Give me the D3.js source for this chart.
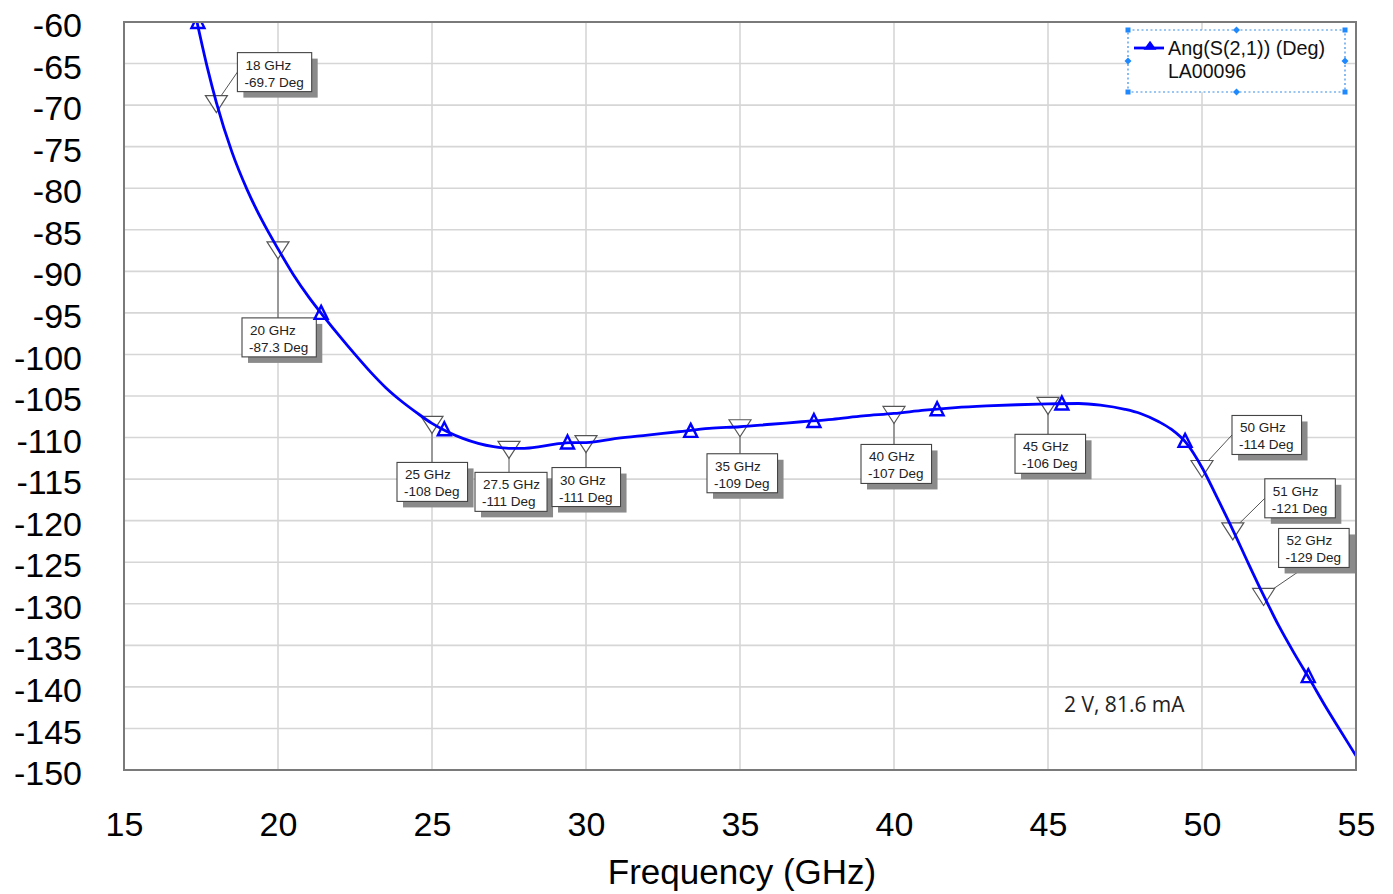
<!DOCTYPE html>
<html lang="en">

<head>
    <meta charset="UTF-8">
    <title>Ang(S(2,1))</title>
    <style>
        body { margin: 0; background: #fff; }
        svg { display: block; }
    </style>
</head>

<body>
    <script src="https://d3js.org/d3.v7.min.js"></script>
    <script>
        // curve (GHz, deg)
        const freqs = [17.37, 17.7, 18, 18.5, 19, 19.5, 20, 20.5, 21, 21.5, 22, 22.5, 23, 23.5, 24, 24.5,
            25, 25.5, 26, 26.5, 27, 27.5, 28, 28.5, 29, 29.5, 30, 31, 32, 33, 34, 35, 36, 37, 38, 39,
            40, 41, 42, 43, 44, 45, 46, 46.7, 47.5, 48, 48.6, 49, 49.5, 50, 50.5, 51, 51.5, 52,
            52.5, 53, 53.5, 54, 54.5, 55];
        const phase = [-60, -65.4, -69.7, -75.6, -80.2, -84.0, -87.3, -90.4, -93.1, -95.5, -97.8, -100, -102.1, -104, -105.6, -107,
            -108.3, -109.3, -110.1, -110.7, -111.1, -111.3, -111.3, -111.1, -110.8, -110.6, -110.6, -110.1, -109.7, -109.3, -108.9, -108.7, -108.4, -108.1, -107.8, -107.4,
            -107.1, -106.7, -106.4, -106.2, -106.05, -105.95, -105.9, -106.1, -106.6, -107.1, -108.1, -109.0, -110.7, -113.6, -117.3, -121.1, -125.1, -129.0,
            -132.7, -136.0, -139.1, -142.3, -145.3, -148.3];

        // series symbols sitting on the trace
        const symFreqs = [17.4, 21.4, 25.4, 29.4, 33.4, 37.4, 41.4, 45.45, 49.45, 53.45];
        const symPhase = [-60, -95.0, -109.0, -110.6, -109.2, -108.0, -106.6, -105.9, -110.4, -138.7];

        // markers
        const markFreqs = [18, 20, 25, 27.5, 30, 35, 40, 45, 50, 51, 52];
        const markPhase = [-69.7, -87.3, -108.3, -111.3, -110.6, -108.7, -107.1, -106.0, -113.6, -121.1, -129.0];
        // label box offset from the marker, and where the leader meets the box
        const markDx = [21, -36, -35, -34, -34, -33, -33, -33, 30, 32, 15];
        const markDy = [-50, 69, 39, 24, 25, 27, 31, 30, -52, -51, -67];
        const markAnchor = ['left', 'top', 'top', 'top', 'top', 'top', 'top', 'top', 'left', 'left', 'bottom'];

        const xTicks = [15, 20, 25, 30, 35, 40, 45, 50, 55];
        const yTicks = [-60, -65, -70, -75, -80, -85, -90, -95, -100, -105, -110, -115, -120, -125,
            -130, -135, -140, -145, -150];

        const width = 1393;
        const height = 894;
        const pLeft = 124, pRight = 1356, pTop = 22, pBottom = 770;
        const font = "Arial, 'Liberation Sans', sans-serif";

        const x = d3.scaleLinear().domain([15, 55]).range([pLeft, pRight]);
        const y = d3.scaleLinear().domain([-150, -60]).range([pBottom, pTop]);

        const svg = d3.select("body").append("svg")
            .attr("width", width)
            .attr("height", height);

        svg.append("defs").append("clipPath").attr("id", "plot")
            .append("rect")
            .attr("x", pLeft).attr("y", pTop)
            .attr("width", pRight - pLeft).attr("height", pBottom - pTop);

        // grid
        const grid = svg.append("g");
        grid.selectAll(".gx").data(xTicks).enter().append("line")
            .attr("x1", d => x(d)).attr("x2", d => x(d))
            .attr("y1", pTop).attr("y2", pBottom)
            .attr("stroke", "#d6d6d6").attr("stroke-width", 1.6);
        grid.selectAll(".gy").data(yTicks).enter().append("line")
            .attr("x1", pLeft).attr("x2", pRight)
            .attr("y1", d => y(d)).attr("y2", d => y(d))
            .attr("stroke", "#d6d6d6").attr("stroke-width", 1.6);

        // axes (plain hyphen for the minus, as in the original)
        const xAxis = svg.append("g")
            .attr("transform", `translate(0, ${pBottom})`)
            .call(d3.axisBottom(x).tickValues(xTicks).tickSize(0).tickPadding(42).tickFormat(d => String(d)));
        xAxis.select(".domain").remove();
        xAxis.selectAll("text")
            .attr("font-family", font).attr("font-size", 34).attr("fill", "#000");

        const yAxis = svg.append("g")
            .attr("transform", `translate(${pLeft}, 0)`)
            .call(d3.axisLeft(y).tickValues(yTicks).tickSize(0).tickPadding(42).tickFormat(d => String(d)));
        yAxis.select(".domain").remove();
        yAxis.selectAll("text")
            .attr("font-family", font).attr("font-size", 34).attr("fill", "#000")
            .attr("dy", "0.43em");

        svg.append("text")
            .attr("x", (pLeft + pRight) / 2 + 2)
            .attr("y", 884)
            .attr("text-anchor", "middle")
            .attr("font-family", font).attr("font-size", 35)
            .text("Frequency (GHz)");

        // marker labels
        const marks = markFreqs.map((f, i) => ({
            f: f, v: markPhase[i], px: x(f), py: y(markPhase[i]),
            dx: markDx[i], dy: markDy[i], anchor: markAnchor[i]
        }));
        const fmt = v => d3.format(".3r")(v).replace("\u2212", "-");

        const mg = svg.append("g");
        const boxes = mg.selectAll(".mark").data(marks).enter().append("g");
        boxes.each(function (d) {
            const g = d3.select(this);
            const bx = d.px + d.dx, by = d.py + d.dy;
            const line = g.append("line").attr("stroke", "#555").attr("stroke-width", 1);
            const shadow = g.append("rect").attr("fill", "#8a8a8a");
            const box = g.append("rect").attr("fill", "#fff").attr("stroke", "#444").attr("stroke-width", 1.1);
            const t1 = g.append("text").attr("x", bx + 8).attr("y", by + 17)
                .attr("font-family", font).attr("font-size", 13.5).attr("fill", "#222")
                .text(d.f + " GHz");
            const t2 = g.append("text").attr("x", bx + 7).attr("y", by + 34)
                .attr("font-family", font).attr("font-size", 13.5).attr("fill", "#222")
                .text(fmt(d.v) + " Deg");
            const w = Math.max(t1.node().getComputedTextLength(), t2.node().getComputedTextLength()) + 15;
            const h = 39;
            box.attr("x", bx).attr("y", by).attr("width", w).attr("height", h);
            shadow.attr("x", bx + 6).attr("y", by + 6).attr("width", w).attr("height", h);
            let ax = bx, ay = by + h / 2;
            if (d.anchor === 'top') { ax = d.px; ay = by; }
            if (d.anchor === 'bottom') { ax = bx + 26; ay = by + h; }
            line.attr("x1", d.px).attr("y1", d.py).attr("x2", ax).attr("y2", ay);
        });

        // down triangles of the markers
        mg.selectAll(".tri").data(marks).enter().append("path")
            .attr("d", d => `M${d.px - 11},${d.py - 7}L${d.px + 11},${d.py - 7}L${d.px},${d.py + 10}Z`)
            .attr("fill", "#fff").attr("stroke", "#555").attr("stroke-width", 1.2);

        // trace
        const plot = svg.append("g").attr("clip-path", "url(#plot)");
        const pts = freqs.map((f, i) => [f, phase[i]]);
        plot.append("path")
            .datum(pts)
            .attr("fill", "none")
            .attr("stroke", "#0000ff")
            .attr("stroke-width", 2.8)
            .attr("d", d3.line().x(d => x(d[0])).y(d => y(d[1])).curve(d3.curveMonotoneX));

        plot.selectAll(".sym").data(symFreqs.map((f, i) => [f, symPhase[i]])).enter().append("path")
            .attr("d", d => {
                const cx = x(d[0]), cy = y(d[1]);
                return `M${cx},${cy - 7}L${cx + 6.5},${cy + 6}L${cx - 6.5},${cy + 6}Z`;
            })
            .attr("fill", "none").attr("stroke", "#0000ff").attr("stroke-width", 2.4);

        // frame
        svg.append("rect")
            .attr("x", pLeft).attr("y", pTop)
            .attr("width", pRight - pLeft).attr("height", pBottom - pTop)
            .attr("fill", "none").attr("stroke", "#7a7a7a").attr("stroke-width", 2);

        // legend
        const lg = svg.append("g");
        const lx0 = 1128, ly0 = 30, lx1 = 1345, ly1 = 92;
        lg.append("rect")
            .attr("x", lx0).attr("y", ly0).attr("width", lx1 - lx0).attr("height", ly1 - ly0)
            .attr("fill", "#fff").attr("stroke", "#3a8ee6").attr("stroke-width", 1.2)
            .attr("stroke-dasharray", "2,2.5");
        [[lx0, ly0], [lx1, ly0], [lx0, ly1], [lx1, ly1]].forEach(p => {
            lg.append("rect").attr("x", p[0] - 2.5).attr("y", p[1] - 2.5).attr("width", 5).attr("height", 5)
                .attr("fill", "#1e88ff");
        });
        [[(lx0 + lx1) / 2, ly0], [(lx0 + lx1) / 2, ly1], [lx0, (ly0 + ly1) / 2], [lx1, (ly0 + ly1) / 2]].forEach(p => {
            lg.append("path").attr("d", `M${p[0]},${p[1] - 3.5}L${p[0] + 3.5},${p[1]}L${p[0]},${p[1] + 3.5}L${p[0] - 3.5},${p[1]}Z`)
                .attr("fill", "#1e88ff");
        });
        lg.append("line").attr("x1", 1134).attr("x2", 1164).attr("y1", 48).attr("y2", 48)
            .attr("stroke", "#0000ff").attr("stroke-width", 2.8);
        lg.append("path").attr("d", "M1150,42L1155,49L1145,49Z")
            .attr("fill", "#0000ff").attr("stroke", "#0000ff").attr("stroke-width", 1.5);
        lg.append("text").attr("x", 1168).attr("y", 55)
            .attr("font-family", font).attr("font-size", 19.8).attr("fill", "#111")
            .text("Ang(S(2,1)) (Deg)");
        lg.append("text").attr("x", 1168).attr("y", 78)
            .attr("font-family", font).attr("font-size", 19.5).attr("fill", "#111")
            .text("LA00096");

        svg.append("text")
            .attr("x", 1064).attr("y", 712)
            .attr("font-family", "'Open Sans', 'Noto Sans', sans-serif").attr("font-size", 21).attr("fill", "#222")
            .text("2 V, 81.6 mA");
    </script>
</body>

</html>
